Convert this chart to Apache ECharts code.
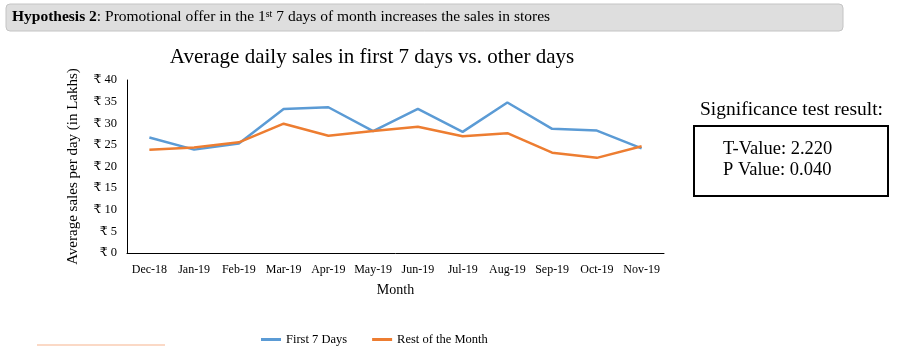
<!DOCTYPE html>
<html><head><meta charset="utf-8">
<script src="https://cdn.jsdelivr.net/npm/echarts@6/dist/echarts.min.js"></script>
<style>html,body{margin:0;padding:0;background:#fff}#c{width:904px;height:346px}</style>
</head><body><div id="c"></div>
<script>
const categories = ['Dec-18','Jan-19','Feb-19','Mar-19','Apr-19','May-19','Jun-19','Jul-19','Aug-19','Sep-19','Oct-19','Nov-19'];
const first7Days = [26.7, 23.9, 25.3, 33.3, 33.7, 28.2, 33.3, 28.0, 34.8, 28.7, 28.3, 24.2];
const restOfMonth = [23.9, 24.4, 25.6, 29.9, 27.1, 28.2, 29.2, 27.0, 27.7, 23.2, 22.0, 24.7];
const seriesNames = ['First 7 Days', 'Rest of the Month'];
const F = '"Liberation Serif", "DejaVu Serif", serif';
const chart = echarts.init(document.getElementById('c'));
chart.setOption({
  animation: false,
  title: {
    text: 'Average daily sales in first 7 days vs. other days',
    left: 367, top: 42, textAlign: 'center',
    textStyle: {fontFamily: F, fontSize: 21, fontWeight: 'normal', color: '#000'}
  },
  legend: {
    data: seriesNames, left: 256, top: 328, itemWidth: 20, itemHeight: 3, itemGap: 25,
    icon: 'rect',
    textStyle: {fontFamily: F, fontSize: 12.5, color: '#000'}
  },
  grid: {left: 127, right: 240, top: 80, bottom: 93},
  xAxis: {
    type: 'category', data: categories, boundaryGap: true,
    name: 'Month', nameLocation: 'middle', nameGap: 30,
    nameTextStyle: {fontFamily: F, fontSize: 14, color: '#000'},
    axisLine: {lineStyle: {color: '#000', width: 1}},
    axisTick: {show: false},
    axisLabel: {fontFamily: F, fontSize: 12, color: '#000', margin: 11, interval: 0}
  },
  yAxis: {
    type: 'value', min: 0, max: 40, interval: 5,
    name: 'Average sales per day (in Lakhs)', nameLocation: 'middle', nameGap: 46,
    nameTextStyle: {fontFamily: F, fontSize: 15, color: '#000'},
    axisLine: {show: true, lineStyle: {color: '#000', width: 1}},
    axisTick: {show: false},
    splitLine: {show: false},
    axisLabel: {fontFamily: F, fontSize: 12.5, color: '#000', margin: 10, formatter: v => '₹ ' + v}
  },
  series: [
    {name: seriesNames[0], type: 'line', data: first7Days, symbol: 'none', lineStyle: {color: '#5b9bd5', width: 2.5}, itemStyle: {color: '#5b9bd5'}},
    {name: seriesNames[1], type: 'line', data: restOfMonth, symbol: 'none', lineStyle: {color: '#ed7d31', width: 2.5}, itemStyle: {color: '#ed7d31'}}
  ],
  graphic: [
    {type: 'rect', shape: {x: 6, y: 4, width: 837, height: 27, r: 4}, style: {fill: '#dedede', stroke: '#c4c4c4', lineWidth: 1}, z: -1},
    {type: 'text', left: 12, top: 9, style: {
      text: '{b|Hypothesis 2}: Promotional offer in the 1{sup|st} 7 days of month increases the sales in stores',
      rich: {
        b: {fontFamily: F, fontSize: 15.5, fontWeight: 'bold', fill: '#000'},
        sup: {fontFamily: F, fontSize: 10, fill: '#000', verticalAlign: 'top', padding: [0,0,6,0]}
      },
      font: '15.5px ' + F, fill: '#000'
    }},
    {type: 'text', left: 700, top: 100, style: {text: 'Significance test result:', font: '19.5px ' + F, fill: '#000'}},
    {type: 'rect', shape: {x: 694, y: 126, width: 194, height: 70}, style: {fill: 'none', stroke: '#000', lineWidth: 2}},
    {type: 'text', left: 723, top: 140, style: {text: 'T-Value: 2.220', font: '18.5px ' + F, fill: '#000'}},
    {type: 'text', left: 723, top: 161, style: {text: 'P Value: 0.040', font: '18.5px ' + F, fill: '#000'}},
    {type: 'rect', shape: {x: 37, y: 344, width: 128, height: 2}, style: {fill: '#fbd9c6'}}
  ]
});
</script></body></html>
